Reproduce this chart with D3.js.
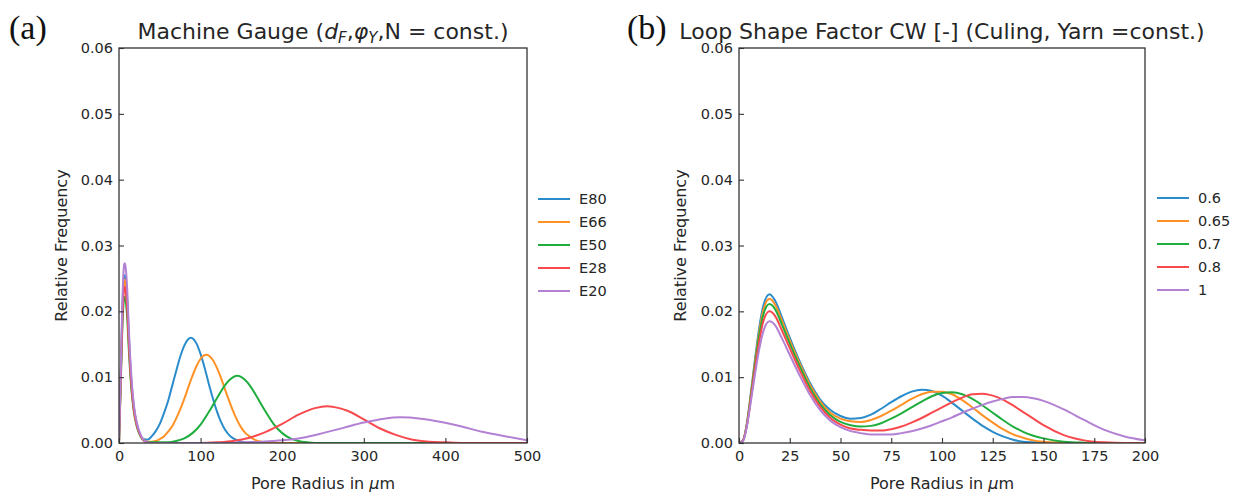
<!DOCTYPE html>
<html>
<head>
<meta charset="utf-8">
<script src="https://cdn.jsdelivr.net/npm/d3@7"></script>
<style>
  body { margin: 0; background: #fff; }
  svg { display: block; }
  text { font-family: "DejaVu Sans", sans-serif; fill: #262626; }
  text.panel-letter { font-family: "Liberation Serif", "Times New Roman", serif; fill: #111; }
</style>
</head>
<body>
<svg id="fig" width="1239" height="496"></svg>
<script>
// ---- Panel (a): pore radius distributions for several machine gauges ----
const gaugeLabels = ["E80", "E66", "E50", "E28", "E20"];
const gaugeE80 = [[0,0],[2,0.0094],[4,0.0196],[6,0.0250],[7,0.0255],[8,0.0250],[10,0.0219],[12,0.0163],[15,0.0097],[18,0.0056],[22,0.0028],[26,0.0013],[30,0.0006],[35,0.0005],[40,0.0010],[45,0.0018],[50,0.0029],[55,0.0045],[60,0.0063],[65,0.0086],[70,0.0109],[75,0.0131],[80,0.0148],[85,0.0158],[88,0.0160],[95,0.0151],[100,0.0135],[105,0.0114],[110,0.0090],[115,0.0068],[120,0.0048],[125,0.0032],[130,0.0020],[135,0.0012],[140,0.0007],[150,0.0002],[160,0],[500,0]];
const gaugeE66 = [[0,0],[2,0.0092],[4,0.0191],[6,0.0243],[7,0.0248],[8,0.0243],[10,0.0213],[12,0.0159],[15,0.0094],[18,0.0055],[22,0.0027],[26,0.0012],[30,0.0005],[35,0.0002],[40,0.0002],[45,0.0003],[50,0.0006],[55,0.0010],[60,0.0017],[65,0.0025],[70,0.0037],[75,0.0051],[80,0.0067],[85,0.0085],[90,0.0102],[95,0.0117],[100,0.0128],[107,0.0134],[115,0.0126],[120,0.0114],[125,0.0099],[130,0.0081],[135,0.0064],[140,0.0048],[145,0.0034],[150,0.0023],[155,0.0015],[160,0.0010],[165,0.0006],[170,0.0003],[180,0.0001],[190,0],[500,0]];
const gaugeE50 = [[0,0],[2,0.0082],[4,0.0171],[6,0.0218],[7,0.0222],[8,0.0218],[10,0.0191],[12,0.0142],[15,0.0084],[18,0.0049],[22,0.0024],[26,0.0011],[30,0.0004],[35,0.0001],[50,0.0001],[60,0.0001],[70,0.0003],[80,0.0007],[90,0.0015],[100,0.0028],[110,0.0047],[120,0.0068],[130,0.0088],[140,0.0100],[145,0.0102],[150,0.0100],[160,0.0088],[170,0.0068],[180,0.0047],[190,0.0028],[200,0.0015],[210,0.0007],[220,0.0003],[230,0.0001],[240,0],[500,0]];
const gaugeE28 = [[0,0],[2,0.0088],[4,0.0182],[6,0.0232],[7,0.0237],[8,0.0232],[10,0.0204],[12,0.0152],[15,0.0090],[18,0.0052],[22,0.0026],[26,0.0012],[30,0.0004],[35,0.0001],[40,0],[100,0],[120,0.0001],[140,0.0003],[160,0.0008],[180,0.0017],[200,0.0029],[220,0.0043],[240,0.0053],[255,0.0056],[270,0.0053],[280,0.0049],[300,0.0036],[320,0.0022],[340,0.0012],[360,0.0005],[380,0.0002],[400,0.0001],[420,0],[500,0]];
const gaugeE20 = [[0,0],[2,0.0101],[4,0.0210],[6,0.0268],[7,0.0273],[8,0.0268],[10,0.0235],[12,0.0175],[15,0.0104],[18,0.0060],[22,0.0030],[26,0.0014],[30,0.0005],[35,0.0001],[40,0],[130,0],[150,0.0001],[175,0.0002],[200,0.0004],[225,0.0008],[250,0.0015],[275,0.0023],[300,0.0031],[325,0.0037],[345,0.0039],[370,0.0037],[395,0.0032],[420,0.0025],[445,0.0017],[470,0.0011],[500,0.0004]];
const gaugeTicks = [0, 100, 200, 300, 400, 500];

// ---- Panel (b): pore radius distributions for several loop shape factors ----
const shapeLabels = ["0.6", "0.65", "0.7", "0.8", "1"];
const shapeRadius = [0,2,4,6,8,10,12,15,18,21,25,30,35,40,45,50,55,60,65,70,75,80,85,90,95,100,105,110,115,120,125,130,135,140,145,150,160,170,180,190,200];
const shape060 = [0,0.0004,0.0032,0.0080,0.0130,0.0176,0.0209,0.0226,0.0215,0.0192,0.0160,0.0123,0.0091,0.0066,0.0050,0.0041,0.0037,0.0038,0.0043,0.0052,0.0062,0.0071,0.0078,0.0081,0.0079,0.0072,0.0061,0.0049,0.0037,0.0026,0.0017,0.0010,0.0005,0.0002,0.0001,0,0,0,0,0,0];
const shape065 = [0,0.0004,0.0031,0.0078,0.0126,0.0170,0.0202,0.0219,0.0209,0.0187,0.0156,0.0120,0.0088,0.0063,0.0046,0.0037,0.0033,0.0032,0.0035,0.0041,0.0049,0.0058,0.0067,0.0074,0.0078,0.0078,0.0074,0.0065,0.0054,0.0042,0.0031,0.0021,0.0013,0.0008,0.0004,0.0002,0.00005,0,0,0,0];
const shape070 = [0,0.0004,0.0030,0.0075,0.0122,0.0164,0.0195,0.0211,0.0202,0.0181,0.0151,0.0116,0.0084,0.0059,0.0042,0.0032,0.0027,0.0025,0.0026,0.0030,0.0037,0.0045,0.0054,0.0063,0.0071,0.0076,0.0077,0.0074,0.0067,0.0057,0.0046,0.0035,0.0025,0.0017,0.0011,0.0007,0.0002,0.00005,0,0,0];
const shape080 = [0,0.0004,0.0029,0.0071,0.0116,0.0155,0.0185,0.0200,0.0192,0.0172,0.0144,0.0110,0.0079,0.0055,0.0038,0.0028,0.0022,0.0020,0.0019,0.0019,0.0021,0.0025,0.0031,0.0038,0.0046,0.0054,0.0062,0.0069,0.0074,0.0075,0.0072,0.0066,0.0057,0.0047,0.0037,0.0027,0.0012,0.0004,0.0001,0,0];
const shape100 = [0,0.0003,0.0027,0.0066,0.0107,0.0143,0.0170,0.0185,0.0178,0.0160,0.0134,0.0102,0.0073,0.0050,0.0034,0.0024,0.0018,0.0015,0.0013,0.0013,0.0013,0.0015,0.0018,0.0022,0.0027,0.0033,0.0039,0.0046,0.0052,0.0058,0.0063,0.0067,0.0070,0.0070,0.0068,0.0064,0.0051,0.0035,0.0020,0.0010,0.0004];
const shapeTicks = [0, 25, 50, 75, 100, 125, 150, 175, 200];

const freqTicks = [0, 0.01, 0.02, 0.03, 0.04, 0.05, 0.06];
const seriesColors = ["#2a8cca", "#ff9126", "#1fae3e", "#f84a4e", "#b381d4"];

const svg = d3.select("#fig");

function drawPanel(cfg) {
  const x = d3.scaleLinear().domain(cfg.xDomain).range([cfg.left, cfg.right]);
  const y = d3.scaleLinear().domain([0, 0.06]).range([cfg.bottom, cfg.top]);
  const g = svg.append("g");

  const clipId = "clip-" + cfg.id;
  svg.append("clipPath").attr("id", clipId)
    .append("rect")
    .attr("x", cfg.left).attr("y", cfg.top)
    .attr("width", cfg.right - cfg.left).attr("height", cfg.bottom - cfg.top);

  const line = d3.line()
    .x(d => x(d[0]))
    .y(d => y(d[1]))
    .curve(d3.curveMonotoneX);

  const lines = g.append("g").attr("clip-path", `url(#${clipId})`);
  cfg.series.forEach((pts, i) => {
    lines.append("path")
      .attr("d", line(pts))
      .attr("fill", "none")
      .attr("stroke", seriesColors[i])
      .attr("stroke-width", 2)
      .attr("stroke-linejoin", "round");
  });

  // axes with inward ticks
  const xAxis = d3.axisBottom(x).tickValues(cfg.xTicks).tickSize(-5).tickPadding(8)
    .tickFormat(d3.format("d"));
  const yAxis = d3.axisLeft(y).tickValues(freqTicks).tickSize(-5).tickPadding(6)
    .tickFormat(d3.format(".2f"));

  const gx = g.append("g").attr("transform", `translate(0,${cfg.bottom})`).call(xAxis);
  const gy = g.append("g").attr("transform", `translate(${cfg.left},0)`).call(yAxis);
  [gx, gy].forEach(a => {
    a.select(".domain").remove();
    a.selectAll(".tick line").attr("stroke", "#333").attr("stroke-width", 1.1);
    a.selectAll(".tick text").attr("font-size", 14.5).attr("fill", "#262626");
  });

  // frame
  g.append("rect")
    .attr("x", cfg.left).attr("y", cfg.top)
    .attr("width", cfg.right - cfg.left).attr("height", cfg.bottom - cfg.top)
    .attr("fill", "none").attr("stroke", "#333").attr("stroke-width", 1.3);

  const cx = (cfg.left + cfg.right) / 2;
  const cy = (cfg.top + cfg.bottom) / 2;

  // axis labels
  g.append("text")
    .attr("x", cx).attr("y", 489)
    .attr("text-anchor", "middle").attr("font-size", 16)
    .call(t => {
      t.append("tspan").text("Pore Radius in ");
      t.append("tspan").attr("font-style", "italic").text("μ");
      t.append("tspan").text("m");
    });
  g.append("text")
    .attr("transform", `translate(${cfg.yLabelX},${cy}) rotate(-90)`)
    .attr("text-anchor", "middle").attr("font-size", 16)
    .text("Relative Frequency");

  // title
  const title = g.append("text")
    .attr("x", cx).attr("y", 39)
    .attr("text-anchor", "middle").attr("font-size", 22);
  cfg.title(title);

  // panel letter
  g.append("text")
    .attr("class", "panel-letter")
    .attr("x", cfg.letterX).attr("y", 39)
    .attr("font-size", 34)
    .text(cfg.letter);

  // legend
  const lg = g.append("g");
  cfg.labels.forEach((lab, i) => {
    const ly = cfg.legendY + i * 23;
    lg.append("line")
      .attr("x1", cfg.legendX).attr("x2", cfg.legendX + 32)
      .attr("y1", ly).attr("y2", ly)
      .attr("stroke", seriesColors[i]).attr("stroke-width", 2);
    lg.append("text")
      .attr("x", cfg.legendX + 41).attr("y", ly)
      .attr("dy", "0.35em").attr("font-size", 14.5)
      .text(lab);
  });
}

drawPanel({
  id: "gauge",
  left: 119, right: 527, top: 48, bottom: 443,
  xDomain: [0, 500], xTicks: gaugeTicks,
  series: [gaugeE80, gaugeE66, gaugeE50, gaugeE28, gaugeE20],
  labels: gaugeLabels,
  legendX: 538, legendY: 199,
  yLabelX: 67,
  letter: "(a)", letterX: 9,
  title: t => {
    t.append("tspan").text("Machine Gauge (");
    t.append("tspan").attr("font-style", "italic").text("d");
    t.append("tspan").attr("font-style", "italic").attr("font-size", 15).attr("dy", 4).text("F");
    t.append("tspan").attr("dy", -4).text(",");
    t.append("tspan").attr("font-style", "italic").text("φ");
    t.append("tspan").attr("font-style", "italic").attr("font-size", 15).attr("dy", 4).text("Y");
    t.append("tspan").attr("dy", -4).text(",N = const.)");
  }
});

drawPanel({
  id: "shape",
  left: 739, right: 1145, top: 48, bottom: 443,
  xDomain: [0, 200], xTicks: shapeTicks,
  series: [shape060, shape065, shape070, shape080, shape100].map(vals => vals.map((v, i) => [shapeRadius[i], v])),
  labels: shapeLabels,
  legendX: 1157, legendY: 198,
  yLabelX: 686,
  letter: "(b)", letterX: 627,
  title: t => t.text("Loop Shape Factor CW [-] (Culing, Yarn =const.)")
});
</script>
</body>
</html>
